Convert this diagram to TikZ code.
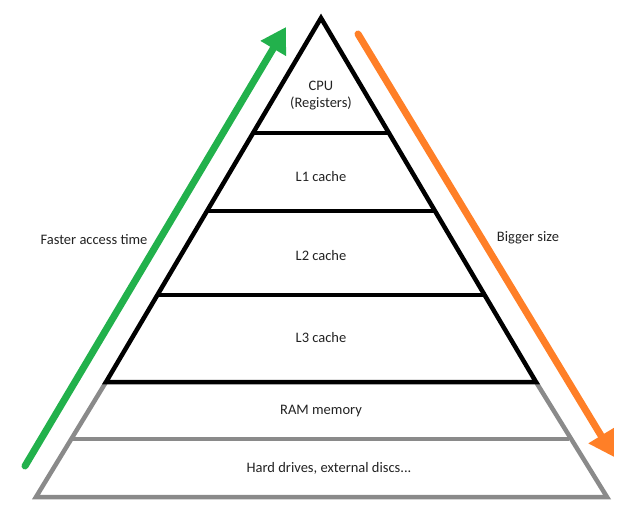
\documentclass[tikz,border=0pt]{standalone}
\usepackage{fontspec}
\setmainfont{Carlito}
\usetikzlibrary{arrows.meta}
\definecolor{pgreen}{HTML}{22B14C}
\definecolor{porange}{HTML}{FF7F27}
\definecolor{pgray}{HTML}{8A8A8A}
\definecolor{ptext}{HTML}{222222}
\begin{document}
\begin{tikzpicture}[x=1pt,y=-1pt,
  blackline/.style={line width=4.5pt,black},
  grayline/.style={line width=4.5pt,pgray},
  lbl/.style={font=\fontsize{14.5}{17}\selectfont,text=ptext,inner sep=0pt,align=center},
  bigarrow/.style={line width=7pt,line cap=round,-{Triangle[length=25pt,width=28pt]}}]
\useasboundingbox (0,0) rectangle (620,508);
% coordinates
\coordinate (apex) at (321,18);
\coordinate (b3l) at (106,382); \coordinate (b3r) at (536,382);
\coordinate (ramL) at (72,439); \coordinate (ramR) at (569,439);
\coordinate (botL) at (36,497); \coordinate (botR) at (607,497);
\coordinate (c1l) at (253,133); \coordinate (c1r) at (389,133);
\coordinate (c2l) at (207,211); \coordinate (c2r) at (435,211);
\coordinate (c3l) at (158,295); \coordinate (c3r) at (484,295);
% gray base
\draw[grayline,line join=miter] (b3l) -- (botL) -- (botR) -- (b3r);
\draw[grayline] (ramL) -- (ramR);
% black triangle
\draw[blackline,line join=miter,miter limit=20] (apex) -- (b3l) -- (b3r) -- cycle;
\draw[blackline] (c1l) -- (c1r);
\draw[blackline] (c2l) -- (c2r);
\draw[blackline] (c3l) -- (c3r);
% arrows
\coordinate (gs) at (25,466); \coordinate (ge) at (286,27);
\coordinate (os) at (358,34); \coordinate (oe) at (614,457);
\draw[bigarrow,pgreen] (gs) -- (ge);
\draw[bigarrow,porange] (os) -- (oe);
% labels
\node[lbl] (cpu) at (321,96) {CPU\\(Registers)};
\node[lbl] (l1) at (321,177) {L1 cache};
\node[lbl] (l2) at (321,256) {L2 cache};
\node[lbl] (l3) at (321,338) {L3 cache};
\node[lbl] (ram) at (321,411) {RAM memory};
\node[lbl] (hdd) at (329,468) {Hard drives, external discs...};
\node[lbl] (fast) at (94,240) {Faster access time};
\node[lbl] (big) at (528,238) {Bigger size};
\end{tikzpicture}
\end{document}
